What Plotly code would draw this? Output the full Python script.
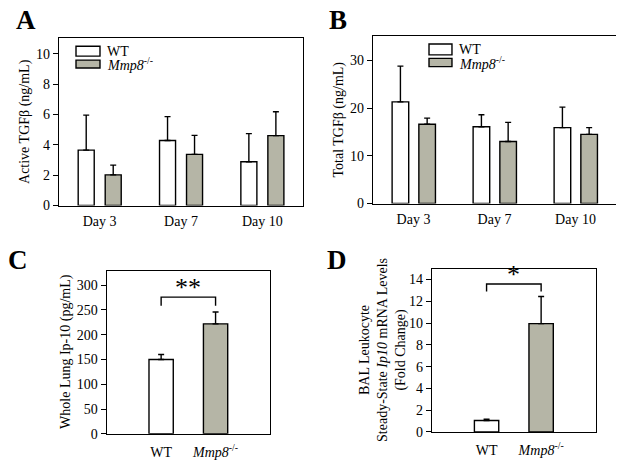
import plotly.graph_objects as go

# ---------------- data ----------------
days = ["Day 3", "Day 7", "Day 10"]
active_wt = [3.65, 4.28, 2.88]
active_wt_sem = [2.30, 1.57, 1.85]
active_ko = [2.02, 3.37, 4.60]
active_ko_sem = [0.64, 1.25, 1.57]

total_wt = [21.3, 16.1, 15.9]
total_wt_sem = [7.5, 2.5, 4.3]
total_ko = [16.6, 13.0, 14.5]
total_ko_sem = [1.3, 4.0, 1.4]

groups = ["WT", "Mmp8"]
group_labels = ["WT", "<i>Mmp8</i><sup>-/-</sup>"]
ip10_protein = [150, 222]
ip10_protein_sem = [10, 24]
ip10_mrna = [1.05, 9.95]
ip10_mrna_sem = [0.12, 2.5]

# ---------------- style ----------------
FONT = "Liberation Serif"
GRAY = "#b5b5a6"
PAD = 8                     # page body margin
W, H = 624 - PAD, 468 - PAD


def px_x(p):
    return (p - PAD) / W


def px_y(p):
    return 1 - (p - PAD) / H


fig = go.Figure()


def bar(x, y, e, fill, ax, offset, width):
    fig.add_trace(go.Bar(
        x=x, y=y, offset=offset, width=width,
        marker=dict(color=fill, line=dict(color="black", width=1.4)),
        error_y=dict(type="data", array=e, arrayminus=[0] * len(e), symmetric=False,
                     color="black", thickness=1.4, width=3),
        xaxis="x" + ax, yaxis="y" + ax, showlegend=False))


# A
bar(days, active_wt, active_wt_sem, "white", "", -0.264, 0.197)
bar(days, active_ko, active_ko_sem, GRAY, "", 0.068, 0.197)
# B
bar(days, total_wt, total_wt_sem, "white", "2", -0.264, 0.205)
bar(days, total_ko, total_ko_sem, GRAY, "2", 0.066, 0.205)
# C
bar([groups[0]], [ip10_protein[0]], [ip10_protein_sem[0]], "white", "3", -0.223, 0.446)
bar([groups[1]], [ip10_protein[1]], [ip10_protein_sem[1]], GRAY, "3", -0.223, 0.446)
# D
bar([groups[0]], [ip10_mrna[0]], [ip10_mrna_sem[0]], "white", "4", -0.223, 0.446)
bar([groups[1]], [ip10_mrna[1]], [ip10_mrna_sem[1]], GRAY, "4", -0.223, 0.446)

tickfont = dict(family=FONT, size=14, color="black")


def xax(dom, anchor, rng, cats, labels, standoff):
    return dict(domain=dom, anchor=anchor, range=rng, showline=True, mirror=True,
                linecolor="black", linewidth=1.4, ticks="", showgrid=False,
                zeroline=False, tickfont=tickfont, fixedrange=True,
                ticklabelstandoff=standoff,
                type="category", categoryorder="array", categoryarray=cats,
                tickmode="array", tickvals=cats, ticktext=labels)


def yax(dom, anchor, rng, dtick):
    return dict(domain=dom, anchor=anchor, range=rng, dtick=dtick, tick0=0,
                showline=True, mirror=True, linecolor="black", linewidth=1.4,
                ticks="outside", ticklen=5, tickwidth=1.2, tickcolor="black",
                showgrid=False, zeroline=False, tickfont=tickfont, fixedrange=True)


layout = dict(
    width=W, height=H, margin=dict(l=0, r=0, t=0, b=0),
    paper_bgcolor="white", plot_bgcolor="white", barmode="overlay",
    font=dict(family=FONT, color="black"),
    xaxis=xax([px_x(59), px_x(303)], "y", [-0.5, 2.5], days, days, 2),
    yaxis=yax([px_y(209), px_y(39)], "x", [0, 11], 2),
    xaxis2=xax([px_x(373), px_x(616)], "y2", [-0.5, 2.5], days, days, 2),
    yaxis2=yax([px_y(207), px_y(37)], "x2", [0, 35], 10),
    xaxis3=xax([px_x(106.7), px_x(270)], "y3", [-1, 2], groups, group_labels, 5),
    yaxis3=yax([px_y(441.3), px_y(276)], "x3", [0, 328], 50),
    xaxis4=xax([px_x(432), px_x(595.7)], "y4", [-1, 2], groups, group_labels, 5),
    yaxis4=yax([px_y(439.5), px_y(273.3)], "x4", [0, 15], 2),
)
fig.update_layout(**layout)

shapes = []
ann = []

# Panel letters
for letter, x, y in [("A", 25.7, 20), ("B", 338, 20), ("C", 18, 264), ("D", 337, 264)]:
    ann.append(dict(text="<b>%s</b>" % letter, x=px_x(x), y=px_y(y), xref="paper", yref="paper",
                    showarrow=False, font=dict(family=FONT, size=27, color="black"),
                    xanchor="center", yanchor="middle"))

# Y titles
ytitles = [
    ("Active TGFβ (ng/mL)", 25, 124),
    ("Total TGFβ (ng/mL)", 339.5, 122),
    ("Whole Lung Ip-10 (pg/mL)", 66, 358),
    ("BAL Leukocyte<br>Steady-State <i>Ip10</i> mRNA Levels<br>(Fold Change)", 383, 356),
]
for t, x, y in ytitles:
    ann.append(dict(text=t, x=px_x(x), y=px_y(y), xref="paper", yref="paper", showarrow=False,
                    textangle=-90, font=dict(family=FONT, size=14, color="black"),
                    xanchor="center", yanchor="middle"))

# Legends (A and B)
for ax, sx0, sx1, tx, rows in [
    ("", 0.0697, 0.168, 0.1885, [(0.894, 0.953), (0.8235, 0.8706)]),
    ("2", 0.2305, 0.325, 0.3457, [(0.89, 0.955), (0.8194, 0.8688)]),
]:
    for (y0, y1), fill, lab in zip(rows, ["white", GRAY], group_labels):
        shapes.append(dict(type="rect", xref="x%s domain" % ax, yref="y%s domain" % ax,
                           x0=sx0, x1=sx1, y0=y0, y1=y1, fillcolor=fill,
                           line=dict(color="black", width=1.4)))
        ann.append(dict(text=lab, xref="x%s domain" % ax, yref="y%s domain" % ax,
                        x=tx, y=(y0 + y1) / 2, showarrow=False, xanchor="left", yanchor="middle",
                        font=dict(family=FONT, size=14, color="black")))

# Significance brackets
for ax, top, leg, star in [("3", 276, 258.5, "**"), ("4", 13.6, 12.9, "*")]:
    shapes.append(dict(type="path", xref="x" + ax, yref="y" + ax,
                       path="M 0,%s L 0,%s L 1,%s L 1,%s" % (leg, top, top, leg),
                       line=dict(color="black", width=1.4)))
    ann.append(dict(text=star, xref="x" + ax, yref="y" + ax, x=0.5, y=top, showarrow=False,
                    xanchor="center", yanchor="bottom", yshift=-7,
                    font=dict(family=FONT, size=26, color="black")))

fig.update_layout(shapes=shapes, annotations=ann)
fig.write_html("out.html")
